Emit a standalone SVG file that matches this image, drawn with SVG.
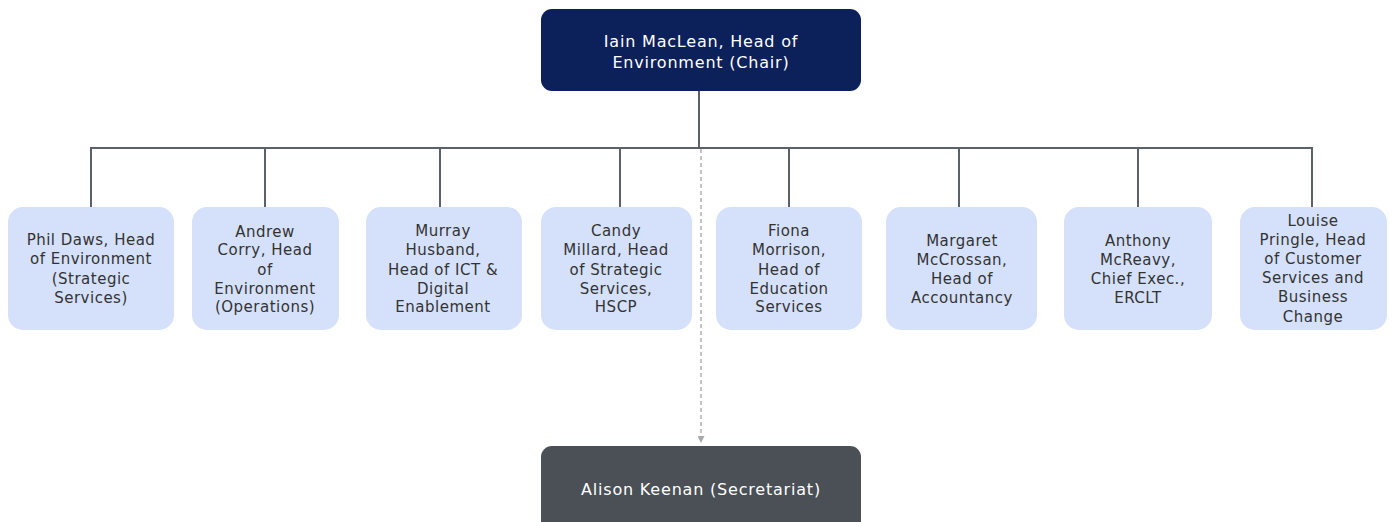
<svg xmlns="http://www.w3.org/2000/svg" width="1394" height="522" viewBox="0 0 1394 522">
<style>
.bg{fill:#ffffff}
.top{fill:#0c2059}
.child{fill:#d5e1fa}
.sec{fill:#4a5055}
.t{font-family:"DejaVu Sans",Verdana,sans-serif;font-size:15px;letter-spacing:0.5px;text-anchor:middle;fill:#333333}
.tw{font-family:"DejaVu Sans",Verdana,sans-serif;font-size:16px;letter-spacing:0.8px;text-anchor:middle;fill:#ffffff}
.ln{stroke:#5b6168;stroke-width:2;fill:none}
.dash{stroke:#b0b0b0;stroke-width:1.5;fill:none;stroke-dasharray:4 3}
</style>
<defs>
<marker id="arr" viewBox="0 0 10 10" refX="10" refY="5" markerWidth="7" markerHeight="7" orient="auto" markerUnits="userSpaceOnUse">
<path d="M0,0 L10,5 L0,10 z" fill="#a8a8a8"/>
</marker>
</defs>
<rect class="bg" x="0" y="0" width="1394" height="522"/>
<g id="connectors">
<line class="ln" x1="699" y1="91" x2="699" y2="148"/>
<line class="ln" x1="91" y1="148" x2="1312" y2="148"/>
<line class="ln" x1="91" y1="147" x2="91" y2="207"/>
<line class="ln" x1="265" y1="147" x2="265" y2="207"/>
<line class="ln" x1="440" y1="147" x2="440" y2="207"/>
<line class="ln" x1="620" y1="147" x2="620" y2="207"/>
<line class="ln" x1="789" y1="147" x2="789" y2="207"/>
<line class="ln" x1="959" y1="147" x2="959" y2="207"/>
<line class="ln" x1="1138" y1="147" x2="1138" y2="207"/>
<line class="ln" x1="1312" y1="147" x2="1312" y2="207"/>
<line class="dash" x1="701" y1="149" x2="701" y2="443" marker-end="url(#arr)"/>
</g>
<g id="chair">
<rect class="top" x="541" y="9" width="320" height="82" rx="11"/>
<text class="tw" x="701" y="47">Iain MacLean, Head of</text>
<text class="tw" x="701" y="68">Environment (Chair)</text>
</g>
<g id="phil">
<rect class="child" x="8" y="207" width="166" height="123" rx="15"/>
<text class="t" x="91" y="245">Phil Daws, Head</text>
<text class="t" x="91" y="264">of Environment</text>
<text class="t" x="91" y="284">(Strategic</text>
<text class="t" x="91" y="303">Services)</text>
</g>
<g id="andrew">
<rect class="child" x="192" y="207" width="147" height="123" rx="15"/>
<text class="t" x="265" y="237">Andrew</text>
<text class="t" x="265" y="255">Corry, Head</text>
<text class="t" x="265" y="275">of</text>
<text class="t" x="265" y="294">Environment</text>
<text class="t" x="265" y="312">(Operations)</text>
</g>
<g id="murray">
<rect class="child" x="366" y="207" width="156" height="123" rx="15"/>
<text class="t" x="443" y="236">Murray</text>
<text class="t" x="443" y="255">Husband,</text>
<text class="t" x="443" y="275">Head of ICT &amp;</text>
<text class="t" x="443" y="294">Digital</text>
<text class="t" x="443" y="312">Enablement</text>
</g>
<g id="candy">
<rect class="child" x="541" y="207" width="151" height="123" rx="15"/>
<text class="t" x="616" y="236">Candy</text>
<text class="t" x="616" y="255">Millard, Head</text>
<text class="t" x="616" y="275">of Strategic</text>
<text class="t" x="616" y="294">Services,</text>
<text class="t" x="616" y="312">HSCP</text>
</g>
<g id="fiona">
<rect class="child" x="716" y="207" width="146" height="123" rx="15"/>
<text class="t" x="789" y="236">Fiona</text>
<text class="t" x="789" y="255">Morrison,</text>
<text class="t" x="789" y="275">Head of</text>
<text class="t" x="789" y="294">Education</text>
<text class="t" x="789" y="312">Services</text>
</g>
<g id="margaret">
<rect class="child" x="886" y="207" width="151" height="123" rx="15"/>
<text class="t" x="962" y="246">Margaret</text>
<text class="t" x="962" y="265">McCrossan,</text>
<text class="t" x="962" y="284">Head of</text>
<text class="t" x="962" y="303">Accountancy</text>
</g>
<g id="anthony">
<rect class="child" x="1064" y="207" width="148" height="123" rx="15"/>
<text class="t" x="1138" y="246">Anthony</text>
<text class="t" x="1138" y="265">McReavy,</text>
<text class="t" x="1138" y="284">Chief Exec.,</text>
<text class="t" x="1138" y="303">ERCLT</text>
</g>
<g id="louise">
<rect class="child" x="1240" y="207" width="147" height="123" rx="15"/>
<text class="t" x="1313" y="226">Louise</text>
<text class="t" x="1313" y="245">Pringle, Head</text>
<text class="t" x="1313" y="264">of Customer</text>
<text class="t" x="1313" y="283">Services and</text>
<text class="t" x="1313" y="302">Business</text>
<text class="t" x="1313" y="322">Change</text>
</g>
<g id="secretariat">
<rect class="sec" x="541" y="446" width="320" height="90" rx="11"/>
<text class="tw" x="701" y="495">Alison Keenan (Secretariat)</text>
</g>
</svg>
